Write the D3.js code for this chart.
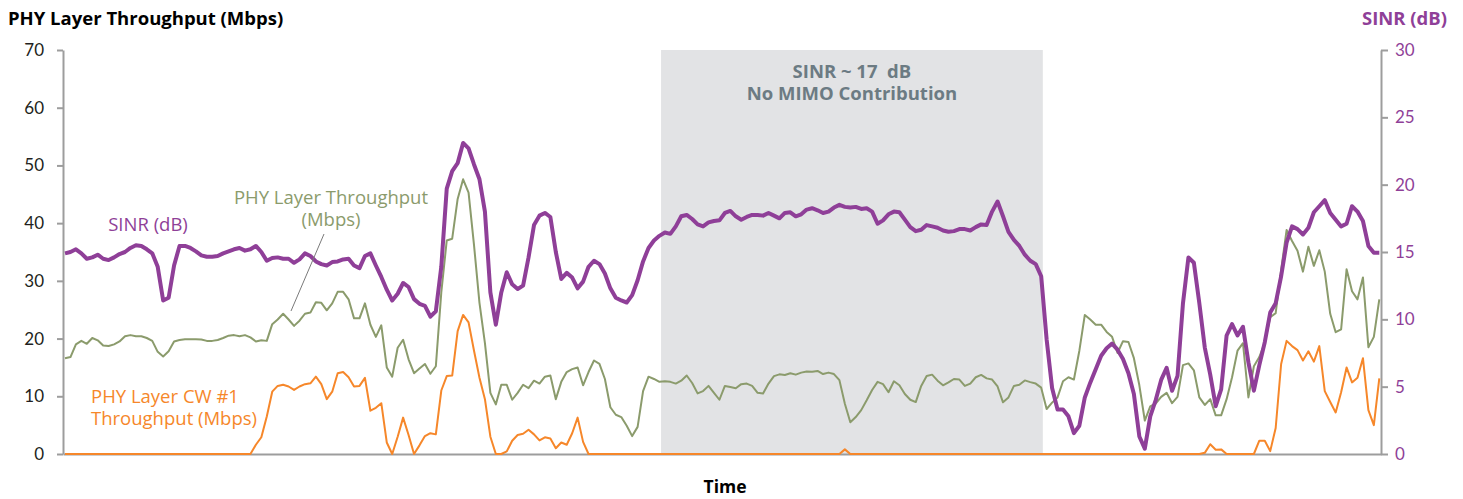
<!DOCTYPE html>
<html>
<head>
<meta charset="utf-8">
<script src="https://cdn.jsdelivr.net/npm/d3@7"></script>
<style>
  html, body { margin: 0; padding: 0; background: #fff; }
  svg { display: block; font-family: "Open Sans", Lato, sans-serif; }
</style>
</head>
<body>
<svg id="chart" width="1463" height="499"></svg>
<script>
// Measurement samples, one per time step
const sinrDb = [
  14.9,15.0,15.2,14.9,14.5,14.6,14.8,14.5,14.4,14.6,14.85,15.0,15.3,15.5,15.45,15.2,14.9,13.9,11.4,11.6,
  14.0,15.45,15.45,15.3,15.05,14.75,14.65,14.65,14.7,14.9,15.05,15.2,15.3,15.1,15.2,15.45,15.0,14.35,14.55,14.6,
  14.5,14.5,14.2,14.45,14.9,14.7,14.3,14.1,14.0,14.25,14.3,14.45,14.5,14.0,13.8,14.7,14.9,14.0,13.15,12.2,
  11.4,11.9,12.7,12.4,11.5,11.15,11.0,10.2,10.6,13.9,19.7,21.0,21.6,23.1,22.7,21.5,20.4,18.0,12.0,9.6,
  12.0,13.5,12.6,12.25,12.5,14.6,17.0,17.7,17.9,17.6,15.0,13.0,13.45,13.1,12.3,12.8,13.9,14.35,14.1,13.4,
  12.3,11.6,11.4,11.25,11.8,12.9,14.3,15.3,15.85,16.2,16.45,16.35,16.9,17.65,17.75,17.45,17.05,16.9,17.2,17.3,
  17.35,17.9,18.05,17.65,17.4,17.6,17.75,17.75,17.7,17.9,17.7,17.5,17.9,17.95,17.65,17.8,18.15,18.25,18.1,17.9,
  18.0,18.3,18.5,18.35,18.3,18.35,18.2,18.25,18.0,17.1,17.35,17.8,18.0,17.95,17.4,16.85,16.55,16.65,17.0,16.9,
  16.8,16.6,16.5,16.55,16.7,16.7,16.6,16.85,17.05,17.0,18.0,18.75,17.65,16.5,15.9,15.45,14.8,14.35,14.1,13.2,
  8.5,4.9,3.3,3.3,2.8,1.55,2.1,4.2,5.3,6.3,7.3,7.85,8.2,7.75,7.05,6.0,4.45,1.3,0.4,2.8,
  4.0,5.5,6.4,4.7,5.8,11.2,14.6,14.2,11.2,7.9,5.9,3.55,4.8,8.8,9.65,8.8,9.45,6.8,4.7,6.6,
  8.3,10.5,11.2,13.2,15.7,16.9,16.7,16.3,16.8,17.95,18.4,18.85,17.9,17.4,16.9,17.1,18.4,18.0,17.3,15.45,
  14.95,14.95
];

const phyThroughput = [
  16.6,16.8,19.0,19.6,19.1,20.1,19.7,18.8,18.7,19.0,19.5,20.4,20.6,20.4,20.4,20.1,19.6,17.7,16.9,17.8,
  19.5,19.75,19.9,19.9,19.9,19.85,19.6,19.6,19.75,20.1,20.5,20.6,20.4,20.6,20.2,19.5,19.7,19.6,22.5,23.3,
  24.3,23.3,22.2,23.1,24.3,24.5,26.3,26.2,24.9,26.1,28.1,28.1,26.8,23.5,23.5,26.1,22.4,20.3,22.3,15.0,
  13.4,18.4,19.8,16.4,14.0,14.8,15.6,13.9,15.2,28.0,37.0,37.3,44.2,47.6,45.3,36.2,26.2,19.2,10.6,8.6,
  12.0,12.0,9.4,10.6,12.0,11.4,12.7,12.2,13.4,13.6,9.5,12.5,14.2,14.7,15.0,11.9,14.2,16.2,15.6,13.0,
  8.1,6.8,6.4,4.9,3.1,4.7,10.9,13.4,13.0,12.5,12.6,12.5,12.2,12.7,13.6,12.3,10.5,10.9,11.8,10.6,
  9.4,11.8,11.6,11.4,12.1,12.2,11.8,10.6,10.5,12.2,13.5,13.8,13.7,14.0,13.75,14.1,14.3,14.25,14.4,13.85,
  14.1,13.85,12.8,8.7,5.5,6.4,7.6,9.3,11.1,12.5,12.1,10.7,12.6,11.9,10.4,9.4,9.0,11.8,13.5,13.75,
  12.7,11.9,12.4,13.0,12.9,11.8,12.2,13.3,13.7,13.1,12.9,11.7,8.95,9.8,11.8,12.0,12.75,12.45,12.2,11.5,
  7.8,8.9,9.8,12.6,13.3,12.9,17.9,24.1,23.3,22.4,22.4,21.15,20.3,17.5,19.55,19.4,16.6,11.9,5.8,8.25,
  8.75,9.9,10.6,8.8,9.9,15.4,15.7,14.5,9.8,8.5,9.5,6.7,6.7,9.5,13.3,17.9,19.2,9.8,15.2,16.8,
  19.3,23.7,24.4,31.9,38.8,36.9,35.2,31.6,35.9,32.6,35.3,31.6,24.3,21.1,21.6,32.0,28.2,26.8,30.6,18.5,
  20.3,26.8
];

const cw1Throughput = [
  0,0,0,0,0,0,0,0,0,0,0,0,0,0,0,0,0,0,0,0,
  0,0,0,0,0,0,0,0,0,0,0,0,0,0,0,1.6,2.9,6.5,10.8,11.8,
  12.0,11.7,11.1,11.7,12.1,12.25,13.4,12.1,9.5,10.8,14.0,14.2,13.3,11.7,11.8,13.2,7.5,8.0,8.8,2.0,
  0,3.0,6.3,3.3,0,1.5,3.1,3.6,3.4,11.0,13.5,13.6,21.3,24.1,22.8,17.9,13.2,9.5,3.0,0,
  0,0.45,2.3,3.3,3.5,4.2,3.4,2.35,2.9,2.7,1.0,2.0,1.6,3.6,6.3,2.1,0,0,0,0,
  0,0,0,0,0,0,0,0,0,0,0,0,0,0,0,0,0,0,0,0,
  0,0,0,0,0,0,0,0,0,0,0,0,0,0,0,0,0,0,0,0,
  0,0,0,0.8,0,0,0,0,0,0,0,0,0,0,0,0,0,0,0,0,
  0,0,0,0,0,0,0,0,0,0,0,0,0,0,0,0,0,0,0,0,
  0,0,0,0,0,0,0,0,0,0,0,0,0,0,0,0,0,0,0,0,
  0,0,0,0,0,0,0,0,0,0.2,1.7,0.75,0.8,0,0,0,0,0,0,2.3,
  2.3,0.5,4.5,15.6,19.6,18.7,18.0,16.2,17.8,16.0,18.7,10.9,9.0,7.2,10.7,15.0,12.4,13.2,16.6,7.6,
  5.0,13.1
];

const throughputTicks = [0, 10, 20, 30, 40, 50, 60, 70];
const sinrTicks = [0, 5, 10, 15, 20, 25, 30];
// Time span where SINR is steady and MIMO adds nothing
const noMimoSpan = [109.3, 179.3];
const noMimoNote = ["SINR ~ 17  dB", "No MIMO Contribution"];

const colors = {
  sinr: "#8f3f98",
  phy: "#8b9b6c",
  cw1: "#f6872a",
  axis: "#9d9d9d",
  shade: "#e2e3e5",
  note: "#6c7b83",
  text: "#231f20"
};

const labelSize = 18.5;

const svg = d3.select("#chart");
const plotTop = 50, plotBottom = 454;

const x = d3.scaleLinear().domain([0, sinrDb.length - 1]).range([65, 1379.3]);
const yThr = d3.scaleLinear().domain([0, 70]).range([plotBottom, plotTop]);
const ySinr = d3.scaleLinear().domain([0, 30]).range([plotBottom, plotTop]);

// Shaded band
svg.append("rect")
  .attr("x", x(noMimoSpan[0]))
  .attr("y", plotTop)
  .attr("width", x(noMimoSpan[1]) - x(noMimoSpan[0]))
  .attr("height", plotBottom - plotTop)
  .attr("fill", colors.shade);

const noteX = (x(noMimoSpan[0]) + x(noMimoSpan[1])) / 2;
svg.append("text")
  .attr("x", noteX).attr("y", 78)
  .attr("text-anchor", "middle")
  .attr("font-weight", 700).attr("font-size", labelSize)
  .attr("fill", colors.note)
  .selectAll("tspan").data(noMimoNote).join("tspan")
  .attr("x", noteX)
  .attr("dy", (d, i) => i === 0 ? 0 : 22)
  .style("white-space", "pre")
  .text(d => d);

// Axes
const leftAxis = svg.append("g")
  .attr("transform", "translate(63,0)")
  .call(d3.axisLeft(yThr).tickValues(throughputTicks).tickSize(6).tickSizeOuter(0).tickPadding(13));
const rightAxis = svg.append("g")
  .attr("transform", "translate(1381,0)")
  .call(d3.axisRight(ySinr).tickValues(sinrTicks).tickSize(7).tickSizeOuter(0).tickPadding(7));
const bottomAxis = svg.append("g")
  .attr("transform", `translate(0,${plotBottom})`)
  .call(d3.axisBottom(d3.scaleLinear().range([63, 1381])).tickValues([]).tickSizeOuter(0));

[leftAxis, rightAxis, bottomAxis].forEach(g => {
  g.selectAll("path.domain").attr("stroke", colors.axis).attr("stroke-width", 2);
  g.selectAll(".tick line").attr("stroke", colors.axis).attr("stroke-width", 2);
  g.selectAll(".tick text").attr("font-size", 17).attr("font-family", "Lato, sans-serif");
});
leftAxis.selectAll(".tick text").attr("fill", colors.text);
rightAxis.selectAll(".tick text").attr("fill", colors.sinr);

// Series lines
const line = (yScale) => d3.line().x((d, i) => x(i)).y(d => yScale(d));

svg.append("path").datum(phyThroughput)
  .attr("fill", "none").attr("stroke", colors.phy).attr("stroke-width", 2)
  .attr("stroke-linejoin", "round").attr("d", line(yThr));

svg.append("path").datum(cw1Throughput)
  .attr("fill", "none").attr("stroke", colors.cw1).attr("stroke-width", 2)
  .attr("stroke-linejoin", "round").attr("d", line(yThr));

svg.append("path").datum(sinrDb)
  .attr("fill", "none").attr("stroke", colors.sinr).attr("stroke-width", 4)
  .attr("stroke-linejoin", "round").attr("d", line(ySinr));

// Axis titles
svg.append("text").attr("x", 8).attr("y", 25)
  .attr("font-weight", 700).attr("font-size", labelSize).attr("fill", "#000")
  .text("PHY Layer Throughput (Mbps)");
svg.append("text").attr("x", 1447).attr("y", 25)
  .attr("text-anchor", "end")
  .attr("font-weight", 700).attr("font-size", labelSize).attr("fill", colors.sinr)
  .text("SINR (dB)");
svg.append("text").attr("x", 725).attr("y", 493)
  .attr("text-anchor", "middle")
  .attr("font-weight", 700).attr("font-size", 17.5).attr("fill", "#000")
  .text("Time");

// Series labels
svg.append("text").attr("x", 148).attr("y", 231)
  .attr("text-anchor", "middle").attr("font-size", labelSize).attr("fill", colors.sinr)
  .text("SINR (dB)");

const phyLabel = svg.append("text").attr("text-anchor", "middle")
  .attr("font-size", labelSize).attr("fill", colors.phy);
phyLabel.append("tspan").attr("x", 331).attr("y", 204).text("PHY Layer Throughput");
phyLabel.append("tspan").attr("x", 331).attr("y", 226).text("(Mbps)");

svg.append("line")
  .attr("x1", 324).attr("y1", 234).attr("x2", 291).attr("y2", 311)
  .attr("stroke", "#7a7a7a").attr("stroke-width", 1);

const cwLabel = svg.append("text").attr("font-size", labelSize).attr("fill", colors.cw1);
cwLabel.append("tspan").attr("x", 91).attr("y", 403).text("PHY Layer CW #1");
cwLabel.append("tspan").attr("x", 91).attr("y", 425).text("Throughput (Mbps)");
</script>
</body>
</html>
